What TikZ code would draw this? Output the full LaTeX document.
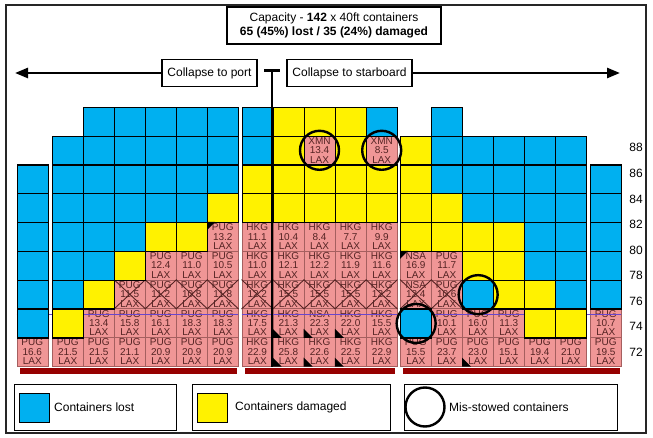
\documentclass[tikz,border=0pt]{standalone}
\usepackage{fontspec}
\setmainfont{Liberation Sans}
\usetikzlibrary{arrows.meta}
\definecolor{lostblue}{RGB}{0,176,240}
\definecolor{dmgyellow}{RGB}{255,242,0}
\definecolor{cellpink}{RGB}{240,150,150}
\definecolor{pinkline}{RGB}{165,95,95}
\definecolor{celltext}{RGB}{85,35,35}
\definecolor{crosscol}{RGB}{85,35,35}
\definecolor{tierline}{RGB}{105,70,205}
\definecolor{barred}{RGB}{150,0,0}
\newcommand\Lc[3]{\node[lost] (#1) at (#2,{366-28.8*(#3+1)}) {};}
\newcommand\Dc[3]{\node[dmg] (#1) at (#2,{366-28.8*(#3+1)}) {};}
\newcommand\Pc[5]{\node[stowed] (#1) at (#2,{366-28.8*(#3+1)}) {#4\\#5\\LAX};}
\newcommand\Xc[1]{\draw[crossline] (#1.north west) -- (#1.south east) (#1.north east) -- (#1.south west);}
\newcommand\TriBL[1]{\fill (#1.south west) -- ++(0,-9) -- ++(9,9) -- cycle;}
\newcommand\TriTL[1]{\fill (#1.north west) -- ++(8,0) -- ++(-8,8) -- cycle;}
\begin{document}
\begin{tikzpicture}[x=1pt,y=-1pt,
  cellbase/.style={rectangle, inner sep=0pt, minimum width=31pt, minimum height=28.8pt, anchor=north west},
  lost/.style={cellbase, draw=black, line width=1.3pt, fill=lostblue},
  dmg/.style={cellbase, draw=black, line width=1.3pt, fill=dmgyellow},
  stowed/.style={cellbase, draw=pinkline, line width=0.6pt, fill=cellpink, text=celltext, font=\fontsize{10}{9.4}\selectfont, align=center},
  crossline/.style={draw=crosscol, line width=0.9pt},
  tierrule/.style={draw=tierline, line width=1pt},
  hatchbar/.style={fill=barred},
  lbl/.style={font=\fontsize{12}{14}\selectfont, inner sep=0pt},
  textbox/.style={draw=black, line width=1.1pt, fill=white, font=\fontsize{12}{14}\selectfont, inner sep=2pt, align=center},
  legendbox/.style={draw=black, line width=1.2pt, fill=white, anchor=north west, inner sep=0pt},
  misstow/.style={circle, draw=black, line width=2.4pt, minimum size=39pt, inner sep=0pt},
  bigarrow/.style={line width=2.5pt, -{Triangle[length=13pt,width=10pt]}}
]
\useasboundingbox (0,0) rectangle (653,438);
\fill[white] (0,0) rectangle (653,438);
\draw[line width=1.2pt, black!85] (6,5) rectangle (646,433);

% title
\node[textbox, minimum width=214pt, minimum height=37pt] (title) at (334,25.5)
  {Capacity - \textbf{142} x 40ft containers\\\textbf{65 (45\%) lost / 35 (24\%) damaged}};

% collapse arrows
\node[textbox, minimum width=95pt, minimum height=27pt] (port) at (209.5,73) {Collapse to port};
\node[textbox, minimum width=125pt, minimum height=27pt] (stbd) at (349.5,73) {Collapse to starboard};
\coordinate (porttip) at (15,73);
\coordinate (stbdtip) at (620,73);
\draw[bigarrow] (port.west) -- (porttip);
\draw[bigarrow] (stbd.east) -- (stbdtip);

% ---------- stowed (pink) containers ----------
\Pc{L1r0}{16.5}{0}{PUG}{16.6}
\Pc{L2r0}{52}{0}{PUG}{21.5}
\Pc{L3r0}{83}{0}{PUG}{21.5}
\Pc{L3r1}{83}{1}{PUG}{13.4}
\Pc{L4r0}{114}{0}{PUG}{21.1}
\Pc{L4r1}{114}{1}{PUG}{15.8}
\Pc{L4r2}{114}{2}{PUG}{11.5}
\Pc{L5r0}{145}{0}{PUG}{20.9}
\Pc{L5r1}{145}{1}{PUG}{16.1}
\Pc{L5r2}{145}{2}{PUG}{11.2}
\Pc{L5r3}{145}{3}{PUG}{12.4}
\Pc{L6r0}{176}{0}{PUG}{20.9}
\Pc{L6r1}{176}{1}{PUG}{18.3}
\Pc{L6r2}{176}{2}{PUG}{10.8}
\Pc{L6r3}{176}{3}{PUG}{11.0}
\Pc{L7r0}{207}{0}{PUG}{20.9}
\Pc{L7r1}{207}{1}{PUG}{18.3}
\Pc{L7r2}{207}{2}{PUG}{11.8}
\Pc{L7r3}{207}{3}{PUG}{10.5}
\Pc{L7r4}{207}{4}{PUG}{13.2}

\Pc{C1r0}{241.5}{0}{HKG}{22.9}
\Pc{C1r1}{241.5}{1}{HKG}{17.5}
\Pc{C1r2}{241.5}{2}{HKG}{12.2}
\Pc{C1r3}{241.5}{3}{HKG}{11.0}
\Pc{C1r4}{241.5}{4}{HKG}{11.1}
\Pc{C2r0}{272.6}{0}{HKG}{25.8}
\Pc{C2r1}{272.6}{1}{HKG}{21.3}
\Pc{C2r2}{272.6}{2}{HKG}{15.5}
\Pc{C2r3}{272.6}{3}{HKG}{12.1}
\Pc{C2r4}{272.6}{4}{HKG}{10.4}
\Pc{C3r0}{303.7}{0}{HKG}{22.6}
\Pc{C3r1}{303.7}{1}{NSA}{22.3}
\Pc{C3r2}{303.7}{2}{HKG}{15.5}
\Pc{C3r3}{303.7}{3}{HKG}{12.2}
\Pc{C3r4}{303.7}{4}{HKG}{8.4}
\Pc{C3r7}{303.7}{7}{XMN}{13.4}
\Pc{C4r0}{334.8}{0}{HKG}{22.5}
\Pc{C4r1}{334.8}{1}{HKG}{22.0}
\Pc{C4r2}{334.8}{2}{HKG}{15.5}
\Pc{C4r3}{334.8}{3}{HKG}{11.9}
\Pc{C4r4}{334.8}{4}{HKG}{7.7}
\Pc{C5r0}{365.9}{0}{HKG}{22.9}
\Pc{C5r1}{365.9}{1}{HKG}{15.5}
\Pc{C5r2}{365.9}{2}{HKG}{12.2}
\Pc{C5r3}{365.9}{3}{HKG}{11.6}
\Pc{C5r4}{365.9}{4}{HKG}{9.9}
\Pc{C5r7}{365.9}{7}{XMN}{8.5}

\Pc{R1r0}{400}{0}{PUG}{15.5}
\Pc{R1r2}{400}{2}{NSA}{12.4}
\Pc{R1r3}{400}{3}{NSA}{16.9}
\Pc{R2r0}{431}{0}{PUG}{23.7}
\Pc{R2r1}{431}{1}{PUG}{10.1}
\Pc{R2r2}{431}{2}{PUG}{10.6}
\Pc{R2r3}{431}{3}{PUG}{11.7}
\Pc{R3r0}{462}{0}{PUG}{23.0}
\Pc{R3r1}{462}{1}{PUG}{16.0}
\Pc{R4r0}{493}{0}{PUG}{15.1}
\Pc{R4r1}{493}{1}{PUG}{11.3}
\Pc{R5r0}{524}{0}{PUG}{19.4}
\Pc{R6r0}{555}{0}{PUG}{21.0}
\Pc{R7r0}{590}{0}{PUG}{19.5}
\Pc{R7r1}{590}{1}{PUG}{10.7}

% crossed-out containers
\Xc{L4r2}\Xc{L5r2}\Xc{L6r2}\Xc{L7r2}
\Xc{C1r2}\Xc{C2r2}\Xc{C3r2}\Xc{C4r2}\Xc{C5r2}
\Xc{R1r2}\Xc{R2r2}

% tier rule
\draw[tierrule] (16.5,314) -- (238,314);
\draw[tierrule] (241.5,314) -- (396.9,314);
\draw[tierrule] (400,314) -- (621,314);

% ---------- lost / damaged ----------
\foreach \r in {1,...,6} {\Lc{L1r\r}{16.5}{\r}}
\Dc{L2r1}{52}{1}
\foreach \r in {2,...,7} {\Lc{L2r\r}{52}{\r}}
\Dc{L3r2}{83}{2}
\foreach \r in {3,...,8} {\Lc{L3r\r}{83}{\r}}
\Dc{L4r3}{114}{3}
\foreach \r in {4,...,8} {\Lc{L4r\r}{114}{\r}}
\Dc{L5r4}{145}{4}
\foreach \r in {5,...,8} {\Lc{L5r\r}{145}{\r}}
\Dc{L6r4}{176}{4}
\foreach \r in {5,...,8} {\Lc{L6r\r}{176}{\r}}
\Dc{L7r5}{207}{5}
\foreach \r in {6,...,8} {\Lc{L7r\r}{207}{\r}}

\Dc{C1r5}{241.5}{5}\Dc{C1r6}{241.5}{6}\Lc{C1r7}{241.5}{7}\Lc{C1r8}{241.5}{8}
\foreach \r in {5,...,8} {\Dc{C2r\r}{272.6}{\r}}
\Dc{C3r5}{303.7}{5}\Dc{C3r6}{303.7}{6}\Dc{C3r8}{303.7}{8}
\foreach \r in {5,...,8} {\Dc{C4r\r}{334.8}{\r}}
\Dc{C5r5}{365.9}{5}\Dc{C5r6}{365.9}{6}\Lc{C5r8}{365.9}{8}

\Lc{R1r1}{400}{1}
\foreach \r in {4,...,7} {\Dc{R1r\r}{400}{\r}}
\Dc{R2r4}{431}{4}\Dc{R2r5}{431}{5}
\foreach \r in {6,...,8} {\Lc{R2r\r}{431}{\r}}
\Lc{R3r2}{462}{2}\Dc{R3r3}{462}{3}\Dc{R3r4}{462}{4}
\foreach \r in {5,...,7} {\Lc{R3r\r}{462}{\r}}
\foreach \r in {2,...,4} {\Dc{R4r\r}{493}{\r}}
\foreach \r in {5,...,7} {\Lc{R4r\r}{493}{\r}}
\Dc{R5r1}{524}{1}\Dc{R5r2}{524}{2}
\foreach \r in {3,...,7} {\Lc{R5r\r}{524}{\r}}
\Dc{R6r1}{555}{1}
\foreach \r in {2,...,7} {\Lc{R6r\r}{555}{\r}}
\foreach \r in {2,...,6} {\Lc{R7r\r}{590}{\r}}

% corner markers
\TriBL{C2r1}\TriBL{C3r1}\TriBL{C4r1}
\TriBL{C2r0}\TriBL{C3r0}\TriBL{C4r0}
\TriBL{R3r0}
\TriTL{L7r4}\TriTL{R1r3}

% hatch bars
\fill[hatchbar] (20,368) rectangle (237,374);
\fill[hatchbar] (245,368) rectangle (395,374);
\fill[hatchbar] (403,368) rectangle (620,374);

% centre line
\coordinate (ctop) at (272,70.5);
\coordinate (cbot) at (272,366.5);
\coordinate (tbl) at (264,70.5);
\coordinate (tbr) at (280,70.5);
\draw[line width=3pt] (tbl) -- (tbr);
\draw[line width=2.8pt] (ctop) -- (cbot);

% mis-stowed circles
\node[misstow] (m1) at (C3r7.center) {};
\node[misstow] (m2) at (C5r7.center) {};
\node[misstow] (m3) at (R3r2.center) {};
\node[misstow] (m4) at (R1r1.center) {};

% tier labels
\node[lbl] (t88) at (636,147.7) {88};
\node[lbl] (t86) at (636,173.3) {86};
\node[lbl] (t84) at (636,199) {84};
\node[lbl] (t82) at (636,224.5) {82};
\node[lbl] (t80) at (636,250) {80};
\node[lbl] (t78) at (636,275.5) {78};
\node[lbl] (t76) at (636,301) {76};
\node[lbl] (t74) at (636,326.5) {74};
\node[lbl] (t72) at (636,352) {72};

% legend
\node[legendbox, minimum width=162pt, minimum height=46pt] (leg1) at (14,384) {};
\node[lost, minimum width=30pt, minimum height=29pt] (legblue) at (19,393) {};
\node[lbl, anchor=west] (legbluetxt) at (54,407.5) {Containers lost};
\node[legendbox, minimum width=198pt, minimum height=46pt] (leg2) at (192,384) {};
\node[dmg, minimum width=30pt, minimum height=29pt] (legyellow) at (197,393) {};
\node[lbl, anchor=west] (legyellowtxt) at (235,407.5) {Containers damaged};
\node[legendbox, minimum width=213pt, minimum height=46pt] (leg3) at (404,384) {};
\node[misstow] (legcircle) at (425,407) {};
\node[lbl, anchor=west] (legcircletxt) at (449,407.5) {Mis-stowed containers};
\end{tikzpicture}
\end{document}
